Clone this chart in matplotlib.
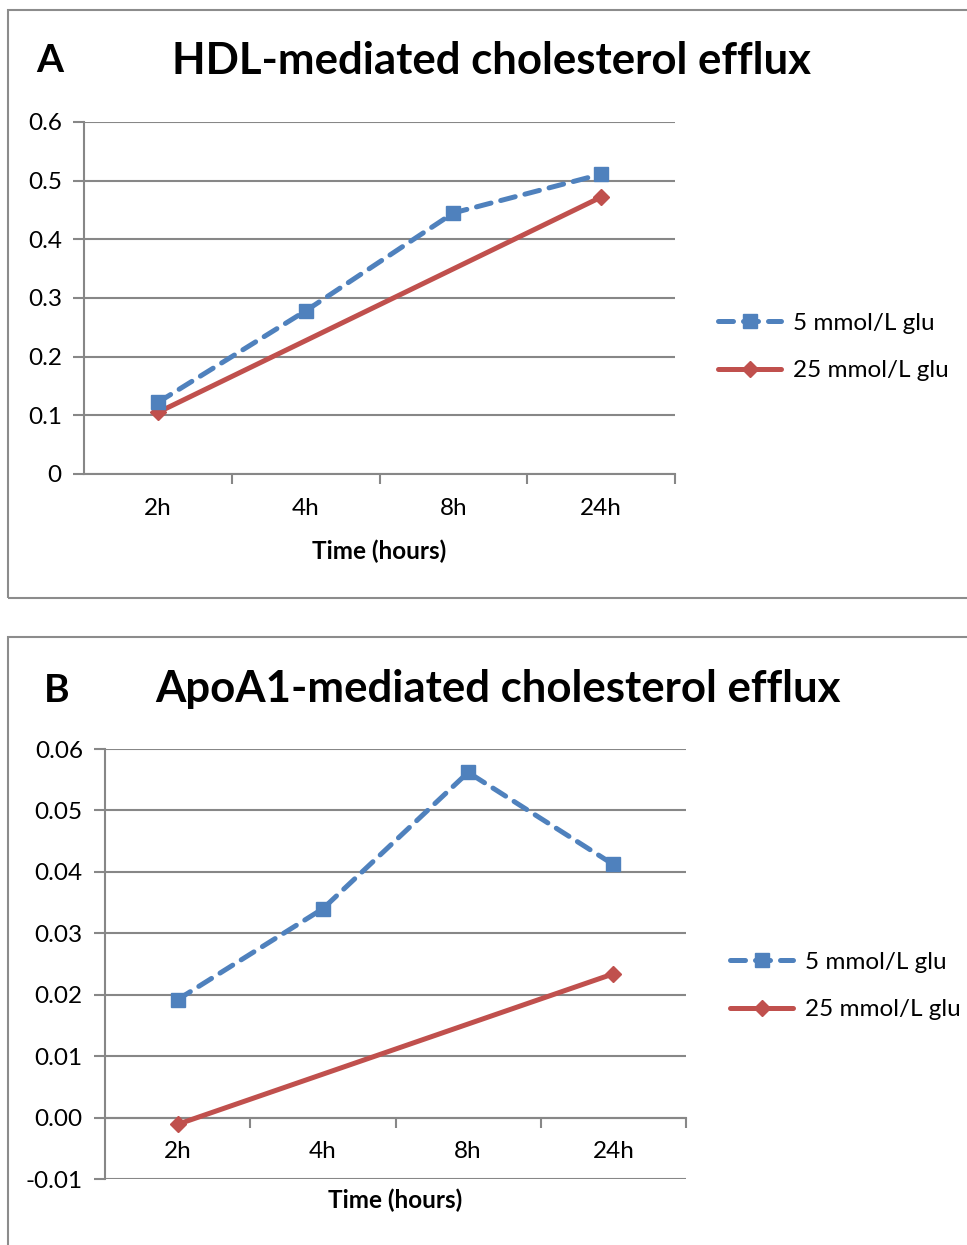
"""Cholesterol efflux time course, HDL (A) and ApoA1 (B), two glucose levels."""
import numpy as np
import matplotlib.pyplot as plt
from matplotlib.patches import Rectangle
from matplotlib.ticker import FixedLocator, NullFormatter

plt.rcParams['font.family'] = ['Lato', 'DejaVu Sans']

W, H = 967, 1245

time_labels = ['2h', '4h', '8h', '24h']
series_names = ['5 mmol/L glu', '25 mmol/L glu']

# panel A: HDL-mediated efflux
hdl_5mm = [0.122, 0.278, 0.445, 0.511]
hdl_25mm = [0.105, None, None, 0.472]
hdl_yticks = [0, 0.1, 0.2, 0.3, 0.4, 0.5, 0.6]
hdl_yticklabels = ['0', '0.1', '0.2', '0.3', '0.4', '0.5', '0.6']

# panel B: ApoA1-mediated efflux
apoa1_5mm = [0.0192, 0.034, 0.0562, 0.0412]
apoa1_25mm = [-0.0011, None, None, 0.0234]
apoa1_yticks = [-0.01, 0.0, 0.01, 0.02, 0.03, 0.04, 0.05, 0.06]
apoa1_yticklabels = ['-0.01', '0.00', '0.01', '0.02', '0.03', '0.04', '0.05', '0.06']

BLUE = '#4F81BD'
RED = '#C0504D'
GRID = '#878787'
BORDER = '#8C8C8C'
FS = 17.5


def px_axes(fig, left, top, right, bottom):
    """Add axes given pixel edges measured from the top-left corner."""
    return fig.add_axes([left / W, 1 - bottom / H, (right - left) / W, (bottom - top) / H])


def draw_panel(ax, y5, y25, yticks, yticklabels):
    x = np.arange(len(time_labels))
    ax.plot(x, y5, color=BLUE, lw=3.6, ls=(0, (3.0, 2.0)), dash_capstyle='round',
            marker='s', ms=10, mec=BLUE, mfc=BLUE, label=series_names[0], zorder=4)
    # the 25 mmol/L series only has values at the first and last time point
    x25 = [i for i, v in zip(x, y25) if v is not None]
    v25 = [v for v in y25 if v is not None]
    ax.plot(x25, v25, color=RED, lw=3.6, solid_capstyle='round',
            marker='D', ms=8.5, mec=RED, mfc=RED, label=series_names[1], zorder=3)

    ax.set_xlim(-0.5, len(time_labels) - 0.5)
    ax.set_ylim(yticks[0], yticks[-1])
    ax.set_yticks(yticks)
    ax.set_yticklabels(yticklabels)
    ax.yaxis.grid(True, color=GRID, lw=1.5)
    ax.set_axisbelow(True)

    ax.set_xticks(x)
    ax.set_xticklabels(time_labels)
    ax.xaxis.set_minor_locator(FixedLocator(np.arange(0.5, len(time_labels), 1.0)))
    ax.xaxis.set_minor_formatter(NullFormatter())
    ax.tick_params(axis='x', which='major', length=0, pad=17, labelsize=FS)
    ax.tick_params(axis='x', which='minor', length=7, width=1.5, color=GRID, direction='out')
    ax.tick_params(axis='y', length=8, width=1.5, color=GRID, pad=8, labelsize=FS)

    for side in ['top', 'right']:
        ax.spines[side].set_visible(False)
    for side in ['left', 'bottom']:
        ax.spines[side].set_color(GRID)
        ax.spines[side].set_linewidth(1.5)
    ax.spines['bottom'].set_position(('data', 0))
    ax.set_xlabel('Time (hours)', fontsize=FS, fontweight='bold', labelpad=15)


def add_legend(ax, x_px, y_px):
    ax.legend(loc='center left', bbox_to_anchor=(x_px / W, 1 - y_px / H),
              bbox_transform=ax.figure.transFigure, frameon=False, fontsize=FS,
              handlelength=2.6, handletextpad=0.5, labelspacing=1.1, borderpad=0,
              borderaxespad=0)


fig = plt.figure(figsize=(W / 100, H / 100), dpi=100)

# panel frames
fig.patches.append(Rectangle((8 / W, 1 - 598 / H), 1.2, 588 / H, transform=fig.transFigure,
                             fill=False, ec=BORDER, lw=1.5))
fig.patches.append(Rectangle((8 / W, -0.1), 1.2, 0.1 + 1 - 637 / H, transform=fig.transFigure,
                             fill=False, ec=BORDER, lw=1.5))

ax_a = px_axes(fig, 84, 122, 675, 474)
draw_panel(ax_a, hdl_5mm, hdl_25mm, hdl_yticks, hdl_yticklabels)
fig.text(50 / W, 1 - 60 / H, 'A', fontsize=28, fontweight='bold', ha='center', va='center')
fig.text(492 / W, 1 - 61 / H, 'HDL-mediated cholesterol efflux', fontsize=31.5,
         fontweight='bold', ha='center', va='center')
add_legend(ax_a, 718, 347)

ax_b = px_axes(fig, 105, 749, 686, 1179)
draw_panel(ax_b, apoa1_5mm, apoa1_25mm, apoa1_yticks, apoa1_yticklabels)
fig.text(57 / W, 1 - 690 / H, 'B', fontsize=28, fontweight='bold', ha='center', va='center')
fig.text(498 / W, 1 - 689 / H, 'ApoA1-mediated cholesterol efflux', fontsize=31.5,
         fontweight='bold', ha='center', va='center')
add_legend(ax_b, 730, 986)
# time label in panel B sits below the -0.01 line
ax_b.xaxis.set_label_coords(0.5, -0.023)

fig.savefig('out.png', dpi=100)
